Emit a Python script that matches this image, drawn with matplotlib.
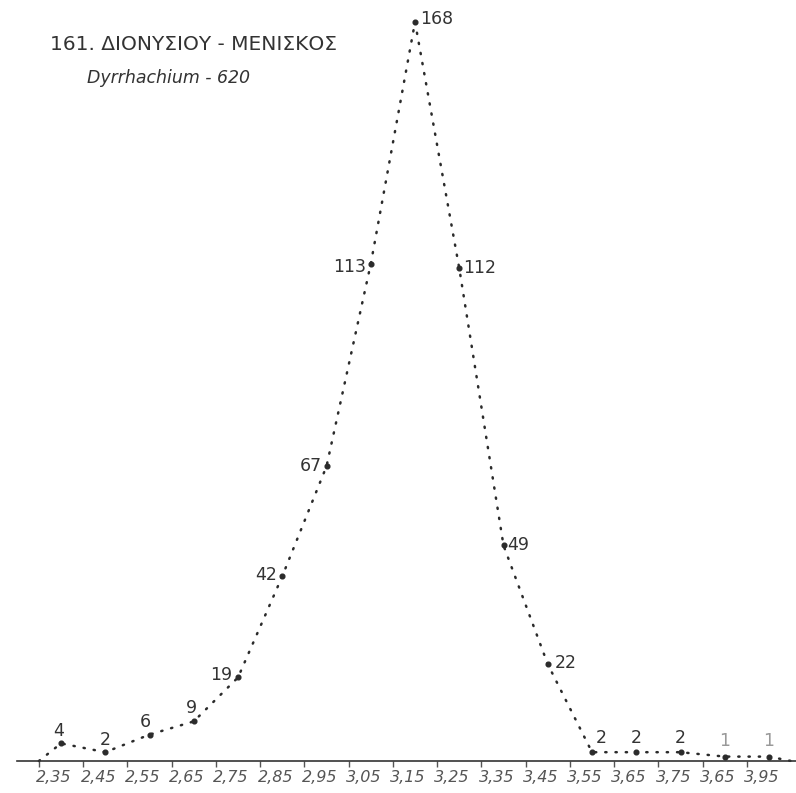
import matplotlib
matplotlib.use("Agg")
import matplotlib.pyplot as plt
import numpy as np

# bin centres (mm) and counts
centres = [2.35, 2.45, 2.55, 2.65, 2.75, 2.85, 2.95, 3.05, 3.15,
           3.25, 3.35, 3.45, 3.55, 3.65, 3.75, 3.85, 3.95]
counts = [4, 2, 6, 9, 19, 42, 67, 113, 168, 112, 49, 22, 2, 2, 2, 1, 1]
tick_labels = ["2,35", "2,45", "2,55", "2,65", "2,75", "2,85", "2,95", "3,05",
               "3,15", "3,25", "3,35", "3,45", "3,55", "3,65", "3,75", "3,65", "3,95"]
title = "161. ΔΙΟΝΥΣΙΟΥ - ΜΕΝΙΣΚΟΣ"
subtitle = "Dyrrhachium - 620"

# label offsets in points (dx, dy, ha)
label_pos = [(-2, 9, "center"), (0, 9, "center"), (-3, 9, "center"), (-2, 10, "center"),
             (-4, 2, "right"), (-4, 1, "right"), (-3, 0, "right"), (-3, -2, "right"),
             (4, 2, "left"), (3, 0, "left"), (3, 0, "left"), (5, 1, "left"),
             (3, 10, "left"), (0, 10, "center"), (0, 10, "center"), (0, 11, "center"),
             (0, 11, "center")]

ink = "#2b2b2b"

fig = plt.figure(figsize=(7.96, 7.93), dpi=100)
ax = fig.add_axes([17 / 796, 32 / 793, 1 - 17 / 796, 1 - 32 / 793])
ax.set_xlim(2.2505, 4.011)
ax.set_ylim(0, 173)

x = np.array(centres)
y = np.array(counts)
# close the polygon on the axis
xp = np.concatenate([[x[0] - 0.05], x, [x[-1] + 0.05]])
yp = np.concatenate([[0], y, [0]])
ax.plot(xp, yp, color=ink, lw=1.8, ls=(0, (0.5, 3.6)), dash_capstyle="round",
        clip_on=False, zorder=2)
ax.plot(x, y, "o", color=ink, ms=3.4, zorder=3)

for xi, yi, (dx, dy, ha) in zip(x, y, label_pos):
    col = "#999999" if yi == 1 else "#333333"
    ax.annotate(str(yi), (xi, yi), xytext=(dx, dy), textcoords="offset points",
                ha=ha, va="center", fontsize=12.5, color=col,
                family="DejaVu Sans")

for s in ["top", "right", "left"]:
    ax.spines[s].set_visible(False)
ax.spines["bottom"].set_color("#333333")
ax.spines["bottom"].set_linewidth(1.2)
ax.set_yticks([])

edges = x - 0.05
ax.set_xticks(edges)
ax.set_xticklabels([])
ax.tick_params(axis="x", direction="out", length=4, width=1, color="#555555")

for xi, lab in zip(x, tick_labels):
    ax.text(xi - 0.016, -2.0, lab, ha="center", va="top", fontsize=11.5,
            style="italic", color="#555555", family="DejaVu Sans")

fig.text(50 / 796, 1 - 45 / 793, title, ha="left", va="center",
         fontsize=14.5, color="#333333", family="DejaVu Sans")
fig.text(87 / 796, 1 - 78 / 793, subtitle, ha="left", va="center",
         fontsize=12.5, style="italic", color="#333333", family="DejaVu Sans")

fig.savefig("out.png", dpi=100)
